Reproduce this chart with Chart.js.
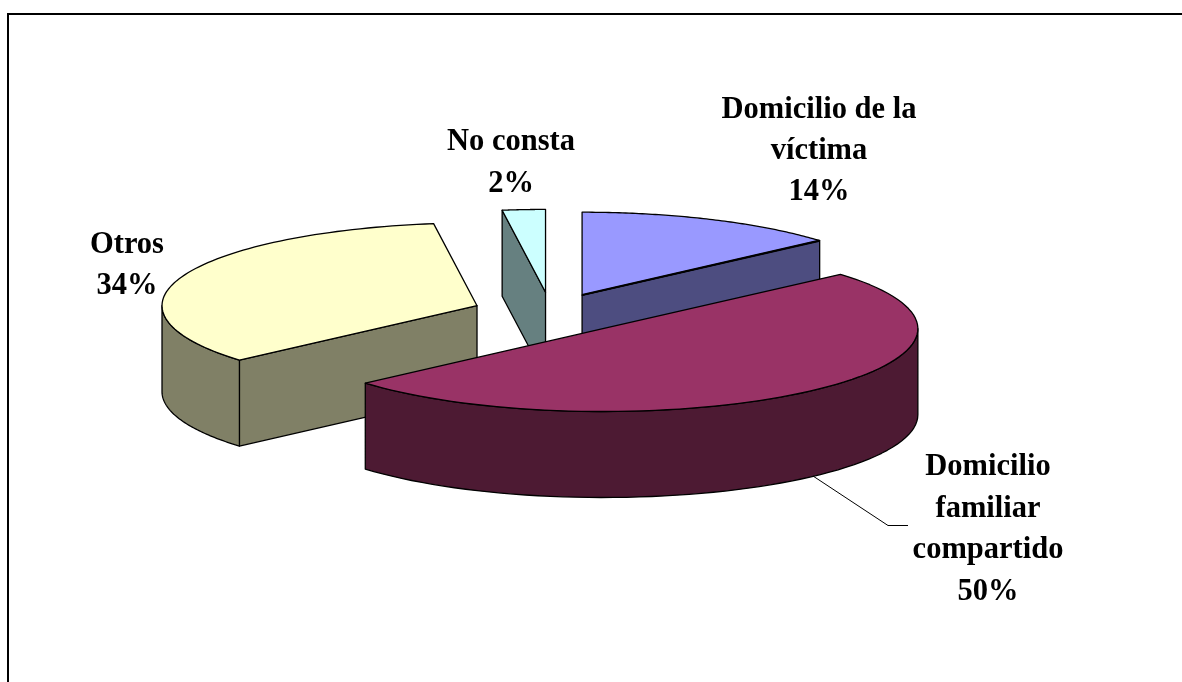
<!DOCTYPE html>
<html>
<head>
<meta charset="utf-8">
<style>
html,body{margin:0;padding:0;background:#fff;overflow:hidden}
canvas{display:block}
</style>
<script src="https://cdn.jsdelivr.net/npm/chart.js@4"></script>
</head>
<body>
<canvas id="c" width="1182" height="682"></canvas>
<script>
const categories = ['Domicilio de la víctima', 'Domicilio familiar compartido', 'Otros', 'No consta'];
const values = [13.6, 50, 34.2, 2.2];
const topColors = ['#9999FF', '#993366', '#FFFFCC', '#CCFFFF'];
const wallColors = ['#4D4D80', '#4D1A33', '#808066', '#668080'];
const labelLines = [
  ['Domicilio de la', 'víctima', '14%'],
  ['Domicilio', 'familiar', 'compartido', '50%'],
  ['Otros', '34%'],
  ['No consta', '2%']
];
const labelAnchors = [[819, 118, 41], [988, 475, 41.7], [127, 253, 41], [511, 150, 42]];
const drawOrder = [3, 0, 2, 1];
const explode = [75, 79, 79, 79];
const TILT = 0.263, DEPTH = 86;

const pie3d = {
  id: 'pie3d',
  beforeDatasetsDraw(chart) {
    const ctx = chart.ctx, arcs = chart.getDatasetMeta(0).data;
    // page frame
    ctx.save();
    ctx.strokeStyle = '#000'; ctx.lineWidth = 2;
    ctx.beginPath(); ctx.moveTo(8, 682); ctx.lineTo(8, 14); ctx.lineTo(1182, 14); ctx.stroke();
    ctx.restore();

    drawOrder.forEach(i => {
      const a = arcs[i], r = a.outerRadius, s = a.startAngle, e = a.endAngle, mid = (s + e) / 2;
      const ox = a.x + Math.cos(mid) * explode[i], oy = Math.sin(mid) * explode[i];
      const px = t => ox + r * Math.cos(t);
      const py = t => a.y + TILT * (oy + r * Math.sin(t));
      const cy = a.y + TILT * oy;
      ctx.save();
      ctx.lineWidth = 1.3; ctx.strokeStyle = '#000'; ctx.lineJoin = 'round';
      ctx.fillStyle = wallColors[i];
      const quad = t => {
        ctx.beginPath();
        ctx.moveTo(ox, cy); ctx.lineTo(px(t), py(t));
        ctx.lineTo(px(t), py(t) + DEPTH); ctx.lineTo(ox, cy + DEPTH);
        ctx.closePath(); ctx.fill(); ctx.stroke();
      };
      if (-Math.cos(s) > 0) quad(s);
      if (Math.cos(e) > 0) quad(e);
      // curved outer wall: only the part that faces the viewer
      [0, 2 * Math.PI].forEach(shift => {
        const from = Math.max(s, shift), to = Math.min(e, shift + Math.PI);
        if (to <= from) return;
        ctx.beginPath();
        for (let k = 0; k <= 60; k++) { const t = from + (to - from) * k / 60; ctx.lineTo(px(t), py(t)); }
        for (let k = 60; k >= 0; k--) { const t = from + (to - from) * k / 60; ctx.lineTo(px(t), py(t) + DEPTH); }
        ctx.closePath(); ctx.fill(); ctx.stroke();
      });
      // top face, drawn by the library's arc element under a tilt transform
      ctx.save();
      ctx.translate(ox - a.x, a.y + TILT * oy);
      ctx.scale(1, TILT);
      ctx.translate(0, -a.y);
      a.draw(ctx);
      ctx.restore();
      // outline in screen space so it keeps an even weight
      ctx.beginPath();
      ctx.moveTo(ox, cy);
      for (let k = 0; k <= 80; k++) { const t = s + (e - s) * k / 80; ctx.lineTo(px(t), py(t)); }
      ctx.closePath(); ctx.stroke();
      if (i === 0) {
        ctx.lineWidth = 2.2;
        ctx.beginPath(); ctx.moveTo(ox, cy); ctx.lineTo(px(e), py(e)); ctx.stroke();
      }
      ctx.restore();
    });
    return false;
  },
  afterDraw(chart) {
    const ctx = chart.ctx;
    ctx.save();
    // leader line
    ctx.strokeStyle = '#000'; ctx.lineWidth = 1;
    ctx.beginPath(); ctx.moveTo(813, 476); ctx.lineTo(888, 525.5); ctx.lineTo(908, 525.5); ctx.stroke();
    ctx.fillStyle = '#000';
    ctx.font = 'bold 30.5px "Liberation Serif"';
    ctx.textAlign = 'center'; ctx.textBaseline = 'alphabetic';
    labelLines.forEach((lines, i) => {
      const [x, y, lh] = labelAnchors[i];
      lines.forEach((l, j) => ctx.fillText(l, x, y + j * lh));
    });
    ctx.restore();
  }
};

new Chart(document.getElementById('c'), {
  type: 'pie',
  data: {
    labels: categories,
    datasets: [{ data: values, backgroundColor: topColors, borderWidth: 0, radius: 315 }]
  },
  options: {
    responsive: false,
    animation: false,
    layout: { padding: { right: 80, bottom: 56 } },
    events: [],
    plugins: { legend: { display: false }, tooltip: { enabled: false } }
  },
  plugins: [pie3d]
});
</script>
</body>
</html>
